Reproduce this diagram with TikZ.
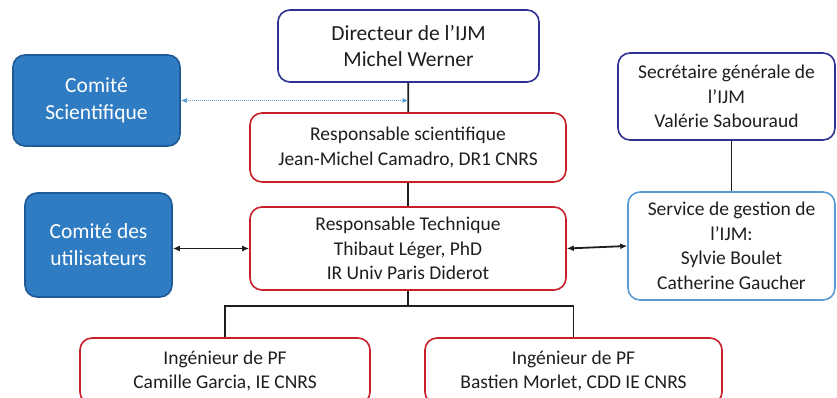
\documentclass[tikz,border=0pt]{standalone}
\usepackage{fontspec}
\setmainfont{Carlito}
\usetikzlibrary{arrows.meta}

\definecolor{navy}{HTML}{2E3192}
\definecolor{boxred}{HTML}{C8202A}
\definecolor{comiteblue}{HTML}{2F7CC2}
\definecolor{comiteedge}{HTML}{1D5A96}
\definecolor{lightblue}{HTML}{5B9BD5}
\definecolor{ink}{HTML}{1E1E1E}

\begin{document}
\begin{tikzpicture}[x = 1pt, y = -1pt,
    box/.style = {draw, line width = 1.6pt, rounded corners = 12pt, align = center,
      inner sep = 0pt, text = ink, font = \fontsize{19.5}{24.5}\selectfont},
    navybox/.style = {box, draw = navy},
    redbox/.style = {box, draw = boxred},
    lightbox/.style = {box, draw = lightblue},
    comite/.style = {box, draw = comiteedge, fill = comiteblue, text = white,
      font = \fontsize{21.5}{27}\selectfont},
    link/.style = {line width = 1.8pt, draw = ink},
    both/.style = {link, {Latex[length = 7pt, width = 6pt]}-{Latex[length = 7pt, width = 6pt]}}]
    \useasboundingbox (0, 0) rectangle (837, 398);
    \node[navybox, minimum width = 261pt, minimum height = 72pt,
      font = \fontsize{21.5}{26}\selectfont] (directeur) at (408.5, 46) {Directeur de l'IJM \\ Michel Werner};
    \node[comite, minimum width = 167pt, minimum height = 91pt] (comite scientifique) at (96.5, 100.5) {Comité \\ Scientifique};
    \node[redbox, minimum width = 316pt, minimum height = 69pt] (resp scientifique) at (408, 147.5) {Responsable scientifique \\ Jean-Michel Camadro, DR1 CNRS};
    \node[redbox, minimum width = 316pt, minimum height = 83pt] (resp technique) at (408, 248.5) {Responsable Technique \\ Thibaut Léger, PhD \\ IR Univ Paris Diderot};
    \node[comite, minimum width = 147pt, minimum height = 104pt] (comite utilisateurs) at (98.5, 245) {Comité des \\ utilisateurs};
    \node[navybox, minimum width = 217pt, minimum height = 87pt] (secretaire) at (726.5, 96.5) {Secrétaire générale de \\ l'IJM \\ Valérie Sabouraud};
    \node[lightbox, minimum width = 207pt, minimum height = 108pt] (service gestion) at (731.5, 246) {Service de gestion de \\ l'IJM: \\ Sylvie Boulet \\ Catherine Gaucher};
    \node[redbox, minimum width = 290pt, minimum height = 66pt] (ingenieur garcia) at (225, 371) {Ingénieur de PF \\ Camille Garcia, IE CNRS};
    \node[redbox, minimum width = 297pt, minimum height = 66pt] (ingenieur morlet) at (573.5, 371) {Ingénieur de PF \\ Bastien Morlet, CDD IE CNRS};
    % hierarchy
    \draw[link] (directeur) -- (resp scientifique);
    \draw[link] (resp scientifique) -- (resp technique);
    \coordinate (director line) at (directeur.south |- comite scientifique.east);
    \draw[lightblue, line width = 1pt, densely dotted, {Latex[length = 6pt, width = 5pt]}-{Latex[length = 6pt, width = 5pt]}]
      (comite scientifique.east) -- (director line);
    \draw[both] (comite utilisateurs.east |- resp technique.west) -- (resp technique.west);
    \draw[both] (resp technique.east) -- (service gestion.west);
    \draw[link] (service gestion.north) -- (service gestion.north |- secretaire.south);
    \coordinate (bus) at (408, 306);
    \draw[link] (resp technique.south) -- (bus);
    \draw[link] (ingenieur garcia.north) |- (bus) -| (ingenieur morlet.north);
  \end{tikzpicture}
\end{document}
